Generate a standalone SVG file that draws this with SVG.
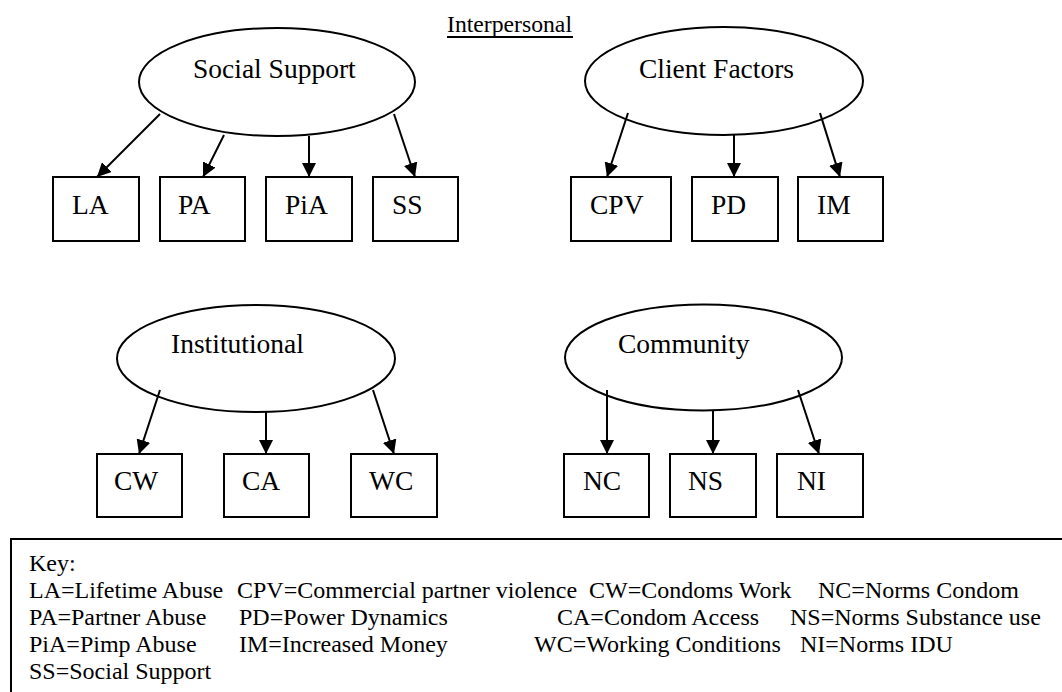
<svg xmlns="http://www.w3.org/2000/svg" width="1062" height="692" viewBox="0 0 1062 692">
  <defs>
    <marker id="arrow" markerUnits="userSpaceOnUse" markerWidth="14" markerHeight="14" refX="14" refY="7" orient="auto">
      <path d="M0,0 L14,7 L0,14 z" fill="#000"/>
    </marker>
    <style>
      text { font-family: "Liberation Serif", "Times New Roman", serif; fill: #000; }
      .oval { fill: #fff; stroke: #000; stroke-width: 2; }
      .box { fill: #fff; stroke: #000; stroke-width: 2; }
      .lbl { font-size: 27.5px; }
      .key { font-size: 24px; }
      .edge { stroke: #000; stroke-width: 2; fill: none; marker-end: url(#arrow); }
    </style>
  </defs>
  <rect width="1062" height="692" fill="#fff"/>

  <!-- heading -->
  <g id="heading">
    <text x="447" y="32" font-size="23.7px">Interpersonal</text>
    <line x1="447" y1="37" x2="573" y2="37" stroke="#000" stroke-width="2"/>
  </g>

  <!-- parent factors -->
  <g id="social-support">
    <ellipse class="oval" cx="277" cy="82" rx="138" ry="54"/>
    <text class="lbl" x="193" y="78">Social Support</text>
  </g>
  <g id="client-factors">
    <ellipse class="oval" cx="724" cy="81" rx="139" ry="54"/>
    <text class="lbl" x="639" y="78">Client Factors</text>
  </g>
  <g id="institutional">
    <ellipse class="oval" cx="256" cy="358.5" rx="139" ry="53.5"/>
    <text class="lbl" x="171" y="353">Institutional</text>
  </g>
  <g id="community">
    <ellipse class="oval" cx="703.5" cy="357.5" rx="138.5" ry="53"/>
    <text class="lbl" x="618" y="353">Community</text>
  </g>

  <!-- measured variables -->
  <g id="LA"><rect class="box" x="53" y="177" width="86" height="64"/><text class="lbl" x="72" y="214">LA</text></g>
  <g id="PA"><rect class="box" x="160" y="177" width="85" height="64"/><text class="lbl" x="178" y="214">PA</text></g>
  <g id="PiA"><rect class="box" x="266" y="177" width="86" height="64"/><text class="lbl" x="285" y="214">PiA</text></g>
  <g id="SS"><rect class="box" x="373" y="177" width="85" height="64"/><text class="lbl" x="392" y="214">SS</text></g>
  <g id="CPV"><rect class="box" x="571" y="177" width="100" height="64"/><text class="lbl" x="590" y="214">CPV</text></g>
  <g id="PD"><rect class="box" x="692" y="177" width="86" height="64"/><text class="lbl" x="711" y="214">PD</text></g>
  <g id="IM"><rect class="box" x="798" y="177" width="85" height="64"/><text class="lbl" x="817" y="214">IM</text></g>

  <g id="CW"><rect class="box" x="97" y="454" width="85" height="63"/><text class="lbl" x="114" y="490">CW</text></g>
  <g id="CA"><rect class="box" x="224" y="454" width="85" height="63"/><text class="lbl" x="242" y="490">CA</text></g>
  <g id="WC"><rect class="box" x="351" y="454" width="86" height="63"/><text class="lbl" x="369" y="490">WC</text></g>
  <g id="NC"><rect class="box" x="564" y="454" width="85" height="63"/><text class="lbl" x="583" y="490">NC</text></g>
  <g id="NS"><rect class="box" x="670" y="454" width="86" height="63"/><text class="lbl" x="688" y="490">NS</text></g>
  <g id="NI"><rect class="box" x="777" y="454" width="86" height="63"/><text class="lbl" x="797" y="490">NI</text></g>

  <!-- connectors -->
  <g id="connectors">
    <line class="edge" x1="160" y1="114" x2="97" y2="177"/>
    <line class="edge" x1="224" y1="135" x2="203" y2="177"/>
    <line class="edge" x1="309" y1="136" x2="309" y2="177"/>
    <line class="edge" x1="394" y1="114" x2="415" y2="177"/>
    <line class="edge" x1="628" y1="113" x2="607" y2="177"/>
    <line class="edge" x1="734" y1="135" x2="734" y2="177"/>
    <line class="edge" x1="820" y1="113" x2="840" y2="177"/>
    <line class="edge" x1="160" y1="390" x2="139" y2="454"/>
    <line class="edge" x1="266" y1="412" x2="266" y2="454"/>
    <line class="edge" x1="373" y1="390" x2="394" y2="454"/>
    <line class="edge" x1="607" y1="390" x2="607" y2="454"/>
    <line class="edge" x1="713" y1="411" x2="713" y2="454"/>
    <line class="edge" x1="798" y1="390" x2="819" y2="454"/>
  </g>

  <!-- legend -->
  <g id="key">
    <rect x="11" y="539" width="1060" height="200" fill="none" stroke="#000" stroke-width="2"/>
    <text class="key" x="29" y="571">Key:</text>
    <text class="key" x="29" y="598">LA=Lifetime Abuse</text>
    <text class="key" x="237" y="598">CPV=Commercial partner violence</text>
    <text class="key" x="589" y="598">CW=Condoms Work</text>
    <text class="key" x="818" y="598">NC=Norms Condom</text>
    <text class="key" x="29" y="625">PA=Partner Abuse</text>
    <text class="key" x="239" y="625">PD=Power Dynamics</text>
    <text class="key" x="557" y="625">CA=Condom Access</text>
    <text class="key" x="790" y="625">NS=Norms Substance use</text>
    <text class="key" x="29" y="652">PiA=Pimp Abuse</text>
    <text class="key" x="239" y="652">IM=Increased Money</text>
    <text class="key" x="534" y="652">WC=Working Conditions</text>
    <text class="key" x="800" y="652">NI=Norms IDU</text>
    <text class="key" x="29" y="679">SS=Social Support</text>
  </g>
</svg>
